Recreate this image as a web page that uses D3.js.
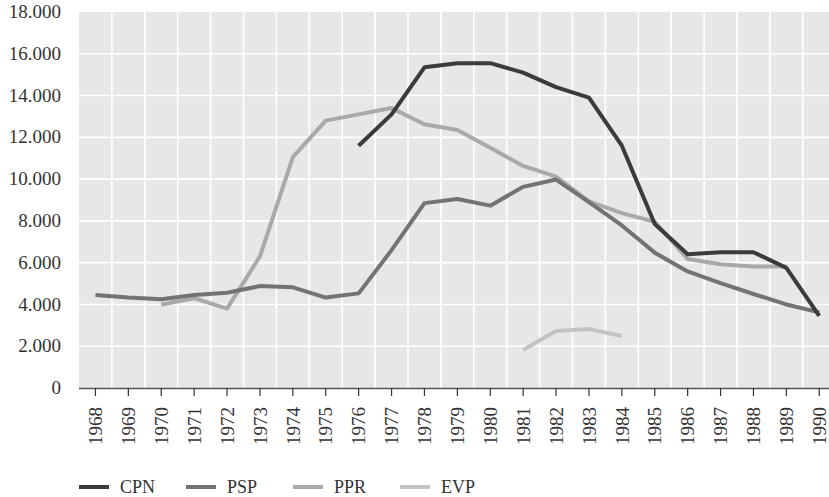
<!DOCTYPE html>
<html>
<head>
<meta charset="utf-8">
<script src="https://cdn.jsdelivr.net/npm/d3@7"></script>
<style>
  body { margin: 0; background: #fff; }
  text { font-family: "Liberation Serif", "DejaVu Serif", serif; fill: #333; }
</style>
</head>
<body>
<div id="chart"></div>
<script>
// years on the x axis
var years = [1968,1969,1970,1971,1972,1973,1974,1975,1976,1977,1978,1979,
             1980,1981,1982,1983,1984,1985,1986,1987,1988,1989,1990];

// series values (null = no data)
var cpn = [null,null,null,null,null,null,null,null,11600,13100,15350,15550,
           15550,15100,14400,13900,11600,7850,6400,6500,6500,5750,3450];
var psp = [4450,4330,4250,4450,4560,4880,4820,4330,4530,6600,8850,9050,
           8730,9630,9980,8900,7780,6480,5580,5020,4500,4000,3620];
var ppr = [null,null,4000,4300,3800,6300,11050,12800,13100,13400,12630,12350,
           11500,10630,10120,8930,8370,7960,6180,5920,5820,5820,null];
var evp = [null,null,null,null,null,null,null,null,null,null,null,null,
           null,1820,2730,2820,2490,null,null,null,null,null,null];

var yTicks = [0,2000,4000,6000,8000,10000,12000,14000,16000,18000];

var series = [
  {name: "CPN", values: cpn, color: "#3b3b3b"},
  {name: "PSP", values: psp, color: "#737373"},
  {name: "PPR", values: ppr, color: "#a9a9aa"},
  {name: "EVP", values: evp, color: "#c3c3c4"}
];

var W = 829, H = 497;
var mLeft = 79, mTop = 12, mBottom = 388;

var svg = d3.select("#chart").append("svg")
    .attr("width", W)
    .attr("height", H);

var x = d3.scaleBand()
    .domain(years)
    .range([mLeft, mLeft + 23 * 32.9])
    .padding(0);

var y = d3.scaleLinear()
    .domain([0, 18000])
    .range([mBottom, mTop]);

// plot background
svg.append("rect")
    .attr("x", mLeft)
    .attr("y", mTop)
    .attr("width", W - mLeft)
    .attr("height", mBottom - mTop)
    .attr("fill", "#e6e7e9");

// vertical grid lines between years
svg.append("g")
  .selectAll("line")
  .data(years.slice(1))
  .enter().append("line")
    .attr("x1", function(d){ return x(d); })
    .attr("x2", function(d){ return x(d); })
    .attr("y1", mTop)
    .attr("y2", mBottom)
    .attr("stroke", "#fff")
    .attr("stroke-width", 1.6);

// horizontal grid lines
svg.append("g")
  .selectAll("line")
  .data(yTicks.slice(1, -1))
  .enter().append("line")
    .attr("x1", mLeft)
    .attr("x2", W)
    .attr("y1", function(d){ return y(d); })
    .attr("y2", function(d){ return y(d); })
    .attr("stroke", "#fff")
    .attr("stroke-width", 1.6);

// y axis labels
var fmt = function(d){ return d === 0 ? "0" : d3.format(",")(d).replace(",", "."); };
svg.append("g")
  .selectAll("text")
  .data(yTicks)
  .enter().append("text")
    .attr("x", 61)
    .attr("y", function(d){ return y(d); })
    .attr("dy", "0.32em")
    .attr("text-anchor", "end")
    .style("font-size", "19px")
    .text(fmt);

// x axis
var xAxis = svg.append("g")
    .attr("transform", "translate(0," + mBottom + ")")
    .call(d3.axisBottom(x).tickSizeOuter(0).tickSize(8).tickPadding(10));
xAxis.select(".domain").attr("stroke", "#555").attr("stroke-width", 1.6)
    .attr("d", "M" + mLeft + ",0.5H" + W);
xAxis.selectAll(".tick line").attr("stroke", "#333").attr("stroke-width", 1.2);
xAxis.selectAll(".tick text")
    .style("font-size", "19px")
    .style("font-family", "'Liberation Serif', serif")
    .attr("fill", "#333")
    .attr("transform", "rotate(-90)")
    .attr("x", -19)
    .attr("y", 0)
    .attr("dy", "0.35em")
    .attr("text-anchor", "end");

// lines
var line = d3.line()
    .defined(function(d){ return d != null; })
    .x(function(d, i){ return x(years[i]) + x.bandwidth() / 2; })
    .y(function(d){ return y(d); });

svg.append("g")
  .selectAll("path")
  .data(series.slice().reverse())
  .enter().append("path")
    .attr("fill", "none")
    .attr("stroke", function(d){ return d.color; })
    .attr("stroke-width", 4)
    .attr("stroke-linejoin", "round")
    .attr("d", function(d){ return line(d.values); });

// legend
var lg = svg.append("g")
  .selectAll("g")
  .data(series)
  .enter().append("g")
    .attr("transform", function(d, i){ return "translate(" + (79 + i * 107) + ",487)"; });
lg.append("line")
    .attr("x1", 0).attr("x2", 30)
    .attr("stroke", function(d){ return d.color; })
    .attr("stroke-width", 4);
lg.append("text")
    .attr("x", 41)
    .attr("dy", "0.35em")
    .style("font-size", "18px")
    .text(function(d){ return d.name; });
</script>
</body>
</html>
